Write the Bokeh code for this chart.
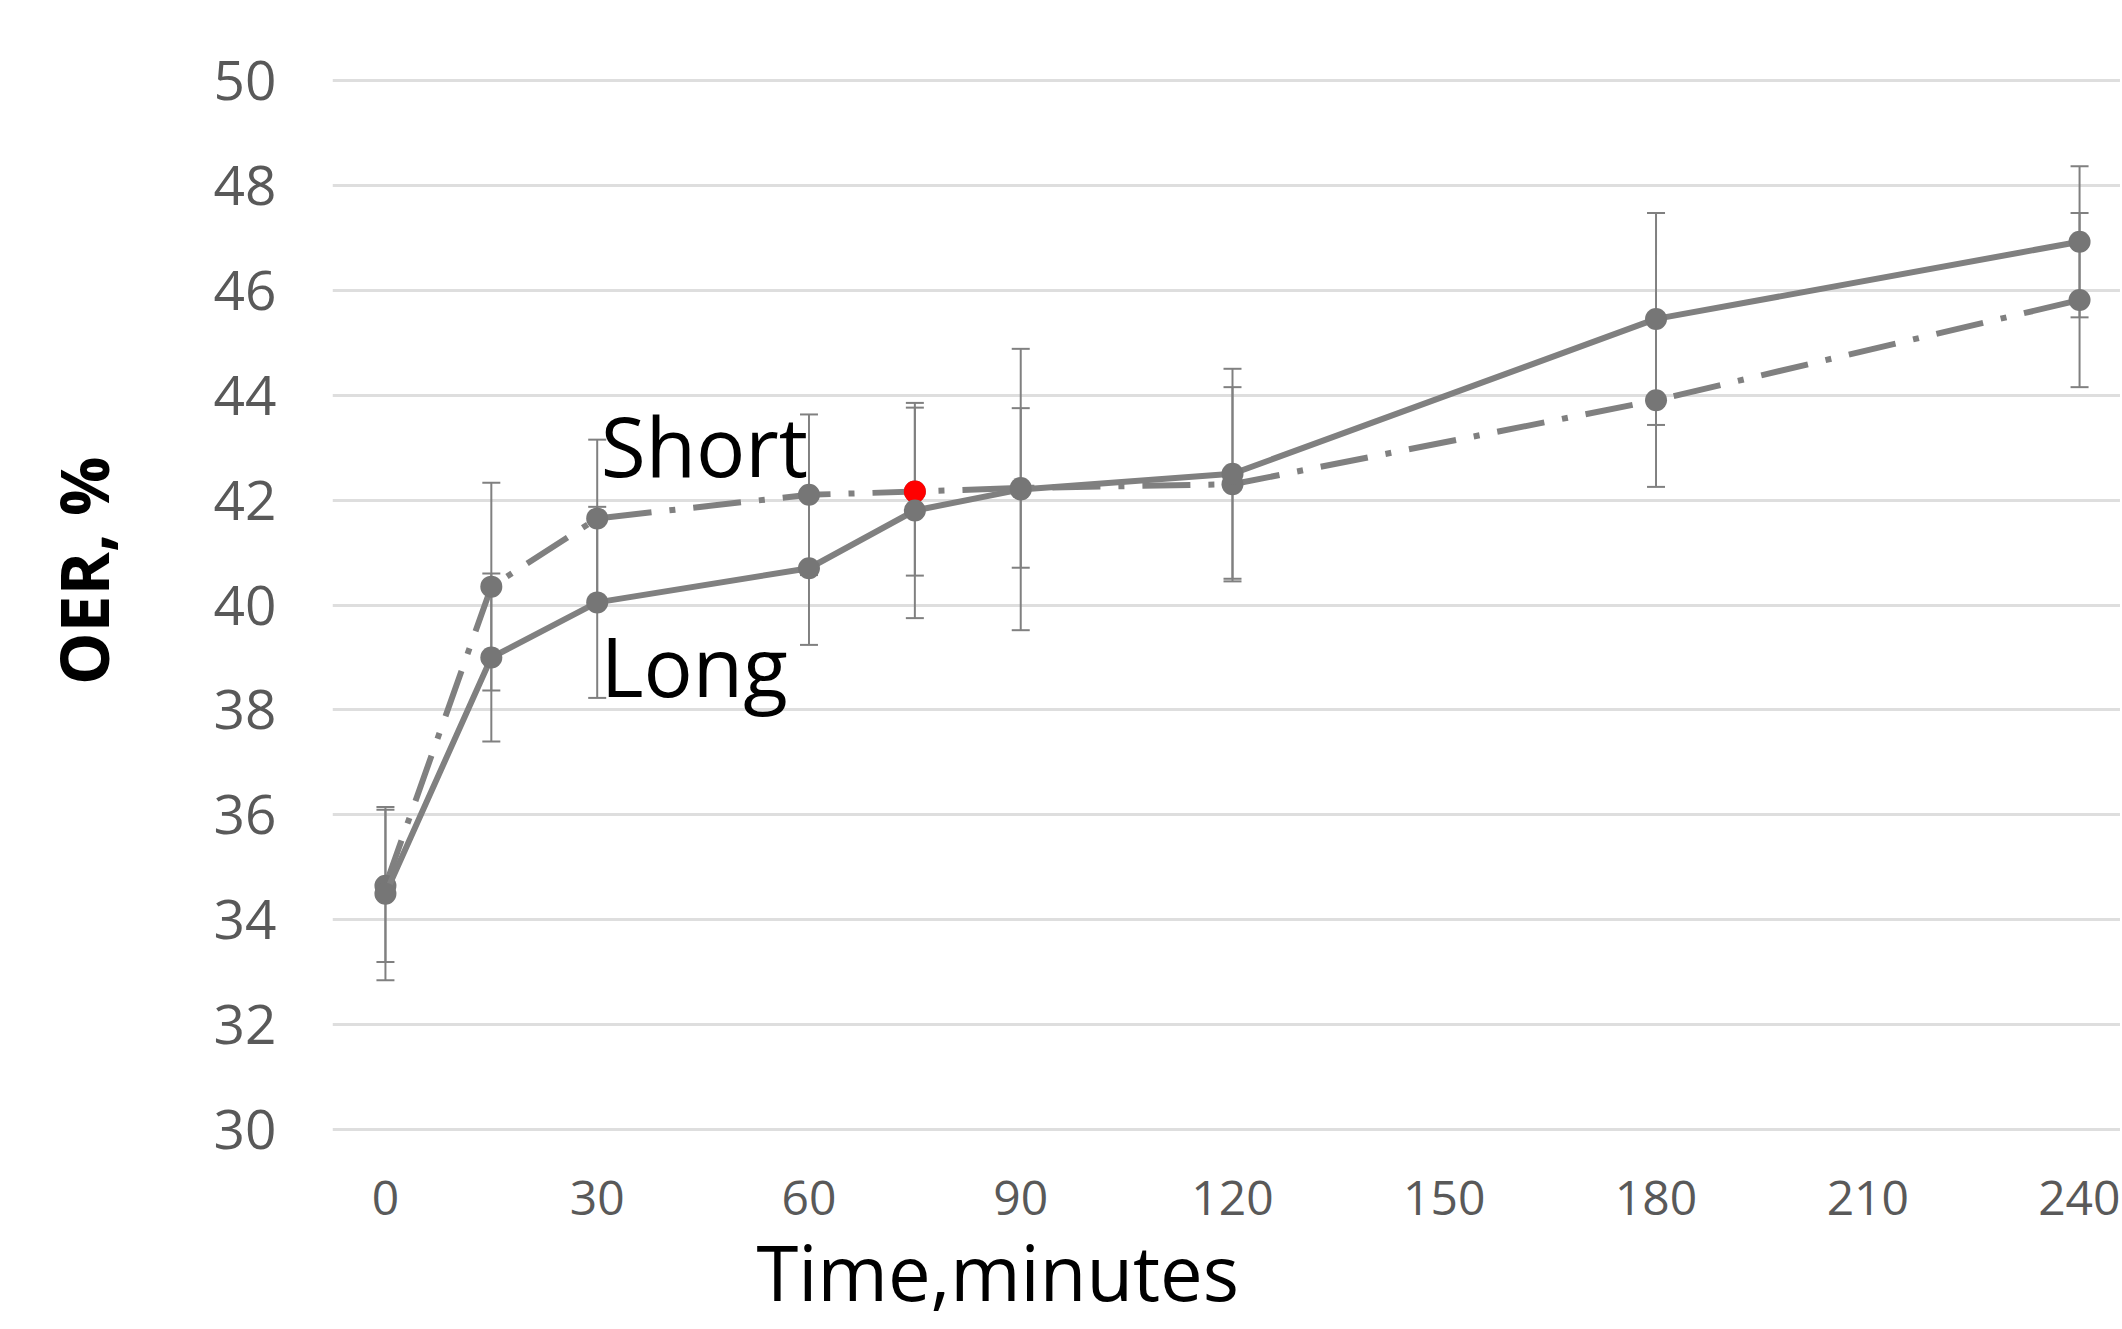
from bokeh.plotting import figure
from bokeh.models import Range1d, FixedTicker, Label, Whisker, ColumnDataSource, TeeHead, Title
from bokeh.embed import file_html
from bokeh.resources import INLINE

# ---- data ----
time_min = [0, 15, 30, 60, 75, 90, 120, 180, 240]
long_oer = [34.5, 39.0, 40.05, 40.7, 41.8, 42.2, 42.5, 45.45, 46.92]
long_err = [1.65, 1.6, 1.82, 1.46, 2.05, 2.68, 2.0, 2.02, 1.44]
short_oer = [34.65, 40.35, 41.65, 42.1, 42.16, 42.23, 42.3, 43.9, 45.81]
short_err = [1.45, 1.98, 1.5, 1.53, 1.6, 1.52, 1.85, 1.65, 1.66]
y_ticks = [30, 32, 34, 36, 38, 40, 42, 44, 46, 48, 50]
x_ticks = [0, 30, 60, 90, 120, 150, 180, 210, 240]
highlight_time = 75  # red marker on the Short series

GRAY = "#808080"
MARK = "#767676"
TICK = "#595959"
NBSP = "\u00a0"

p = figure(width=2120, height=1329, output_backend="svg", toolbar_location=None,
           x_range=Range1d(-7.5, 245.8), y_range=Range1d(29.97, 50.03),
           min_border_left=332, min_border_right=0, min_border_top=78,
           min_border_bottom=198)
p.outline_line_color = None
p.background_fill_color = "white"

for ax in (p.xaxis[0], p.yaxis[0]):
    ax.axis_line_color = None
    ax.major_tick_line_color = None
    ax.minor_tick_line_color = None
    ax.major_label_text_color = TICK
    ax.major_label_text_font = "Open Sans"
p.xaxis.ticker = FixedTicker(ticks=x_ticks)
p.yaxis.ticker = FixedTicker(ticks=y_ticks)
p.xaxis.major_label_text_font_size = "48px"
p.yaxis.major_label_text_font_size = "55px"
p.xaxis.major_label_standoff = 43
p.yaxis.major_label_standoff = 50
p.yaxis.axis_label = NBSP * 4 + "OER, %"
p.yaxis.axis_label_text_font = "Open Sans"
p.yaxis.axis_label_text_font_size = "66px"
p.yaxis.axis_label_text_font_style = "bold"
p.yaxis.axis_label_text_color = "black"
p.yaxis.axis_label_standoff = 83
p.xgrid.visible = False
p.ygrid.grid_line_color = "#dedede"
p.ygrid.grid_line_width = 3

p.add_layout(Title(text="Time,minutes", align="left", offset=424,
                   text_font="Open Sans", text_font_size="76px",
                   text_font_style="normal", text_color="black", standoff=0),
             "below")

long_src = ColumnDataSource(dict(
    x=time_min, y=long_oer,
    upper=[v + e for v, e in zip(long_oer, long_err)],
    lower=[v - e for v, e in zip(long_oer, long_err)]))
short_src = ColumnDataSource(dict(
    x=time_min, y=short_oer,
    upper=[v + e for v, e in zip(short_oer, short_err)],
    lower=[v - e for v, e in zip(short_oer, short_err)]))

for src in (short_src, long_src):
    w = Whisker(source=src, base="x", upper="upper", lower="lower",
                line_color=GRAY, line_width=2,
                upper_head=TeeHead(size=18, line_color=GRAY, line_width=2),
                lower_head=TeeHead(size=18, line_color=GRAY, line_width=2))
    p.add_layout(w)

p.line("x", "y", source=short_src, line_color=GRAY, line_width=6,
       line_dash="48 18 6 18")
p.scatter("x", "y", source=short_src, size=22, fill_color=MARK, line_color=None)

idx = time_min.index(highlight_time)
p.scatter([time_min[idx]], [short_oer[idx]], size=22, fill_color="red", line_color=None)

p.line("x", "y", source=long_src, line_color=GRAY, line_width=6)
p.scatter("x", "y", source=long_src, size=22, fill_color=MARK, line_color=None)

p.add_layout(Label(x=30.5, y=43.05, text="Short", text_font="Open Sans",
                   text_font_size="82px", text_color="black",
                   text_baseline="alphabetic"))
p.add_layout(Label(x=30.5, y=38.85, text="Long", text_font="Open Sans",
                   text_font_size="82px", text_color="black",
                   text_baseline="alphabetic"))

open("out.html", "w").write(file_html(p, INLINE))
